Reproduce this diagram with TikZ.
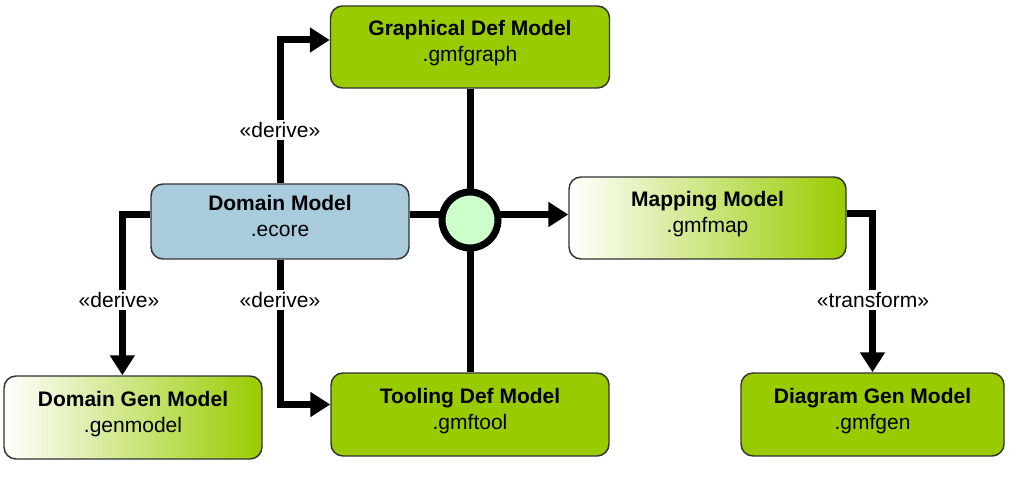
\documentclass[tikz,border=0pt]{standalone}
\usepackage{fontspec}
\setmainfont{Liberation Sans}
\usetikzlibrary{arrows.meta}

\definecolor{gmfgreen}{HTML}{99CC00}
\definecolor{ecoreblue}{HTML}{A9CCDC}
\definecolor{hubgreen}{HTML}{CCFFCC}

\tikzset{
  model/.style={draw=black!80, line width=1.1pt, rounded corners=9pt, align=center,
    font=\fontsize{15.75}{19.5}\selectfont, inner sep=0pt, text depth=9pt},
  solid green/.style={fill=gmfgreen},
  fade green/.style={left color=white, middle color=gmfgreen!25, right color=gmfgreen},
  conn/.style={line width=5.25pt},
  arr/.style={conn, -{Triangle[length=15pt,width=18pt]}},
  stereo/.style={fill=white, font=\fontsize{15.75}{18}\selectfont, inner sep=1.5pt},
}

\begin{document}
\begin{tikzpicture}[x=0.75pt,y=-0.75pt]
  \useasboundingbox (0,0) rectangle (1009,478);

  % models
  \node[model, solid green, minimum width=209.25pt, minimum height=61.5pt] (graph) at (470,47) {\textbf{Graphical Def Model}\\.gmfgraph};
  \node[model, fill=ecoreblue, minimum width=193.5pt, minimum height=56.25pt] (domain) at (280,221.5) {\textbf{Domain Model}\\.ecore};
  \node[model, fade green, minimum width=207.75pt, minimum height=61.5pt] (mapping) at (707.5,218) {\textbf{Mapping Model}\\.gmfmap};
  \node[model, fade green, minimum width=193.5pt, minimum height=62.25pt] (dgen) at (133,417.5) {\textbf{Domain Gen Model}\\.genmodel};
  \node[model, solid green, minimum width=208.5pt, minimum height=62.25pt] (tool) at (470,414.5) {\textbf{Tooling Def Model}\\.gmftool};
  \node[model, solid green, minimum width=197.25pt, minimum height=62.25pt] (diagen) at (872.5,414.5) {\textbf{Diagram Gen Model}\\.gmfgen};

  % connectors
  \coordinate (hub) at (470,214.5);
  \draw[conn] (graph.south) -- (tool.north);
  \draw[arr] (domain.east |- hub) -- (mapping.west |- hub);
  \draw[arr] (domain.north) |- ([yshift=5.25pt]graph.west);
  \draw[arr] ([yshift=5.25pt]domain.west) -| ([xshift=-8pt]dgen.north);
  \draw[arr] (domain.south) |- ([yshift=7.5pt]tool.west);
  \draw[arr] ([yshift=3.75pt]mapping.east) -| (diagen.north);

  % join
  \node[circle, draw, line width=5.25pt, fill=hubgreen, minimum size=42pt, inner sep=0pt] (ring) at (470,220) {};

  % stereotypes
  \node[stereo] (d1) at (280,130) {«derive»};
  \node[stereo] (d2) at (119,300) {«derive»};
  \node[stereo] (d3) at (280,300) {«derive»};
  \node[stereo] (t1) at (873,300) {«transform»};
\end{tikzpicture}
\end{document}
